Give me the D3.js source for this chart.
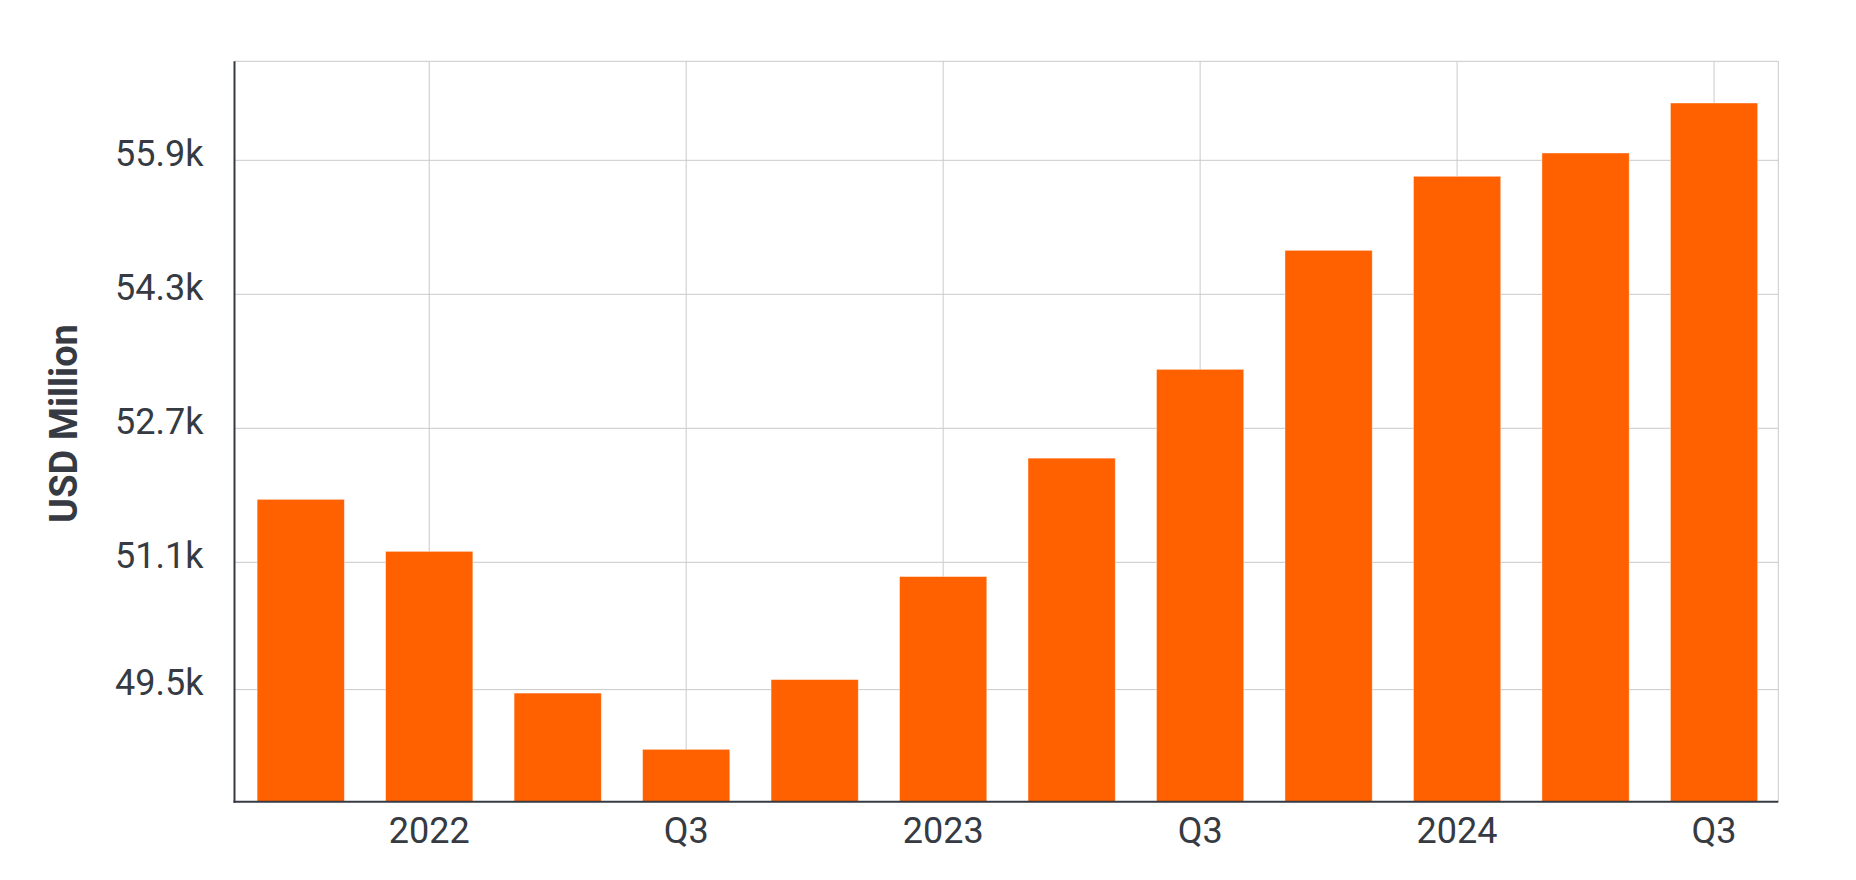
<!DOCTYPE html>
<html><head><meta charset="utf-8">
<script src="https://cdn.jsdelivr.net/npm/d3@7"></script>
<style>
body{margin:0;background:#fff;}
svg{display:block;}
text{font-family:Roboto, "Liberation Sans", sans-serif;}
</style>
</head><body>
<svg id="chart" width="1856" height="880"></svg>
<script>
// ---- data ----
const categories = ["2021 Q4","2022 Q1","2022 Q2","2022 Q3","2022 Q4","2023 Q1","2023 Q2","2023 Q3","2023 Q4","2024 Q1","2024 Q2","2024 Q3"];
const values = [51852, 51231, 49539, 48867, 49700, 50930, 52344, 53404, 54825, 55709, 55987, 56584];
const xTickCategories = ["2022 Q1","2022 Q3","2023 Q1","2023 Q3","2024 Q1","2024 Q3"];
const xTickLabels = ["2022","Q3","2023","Q3","2024","Q3"];
const yTickValues = [49580, 51100, 52700, 54300, 55900];
const yTickLabels = ["49.5k","51.1k","52.7k","54.3k","55.9k"];
const yDomain = [48242, 57082];
const yTitle = "USD Million";

// ---- layout ----
const W = 1856, H = 880;
const m = {left: 234.5, right: 1778.3, top: 61.3, bottom: 801.7};
const textColor = "#363a42";
const barColor = "#ff6000";
const gridColor = "#cacaca";

const svg = d3.select("#chart");
svg.append("rect").attr("width", W).attr("height", H).attr("fill", "#fff");

const x = d3.scaleBand().domain(categories).range([m.left + 2, m.right]).paddingInner(0.321).paddingOuter(0.1605);
const y = d3.scaleLinear().domain(yDomain).range([m.bottom, m.top]);

// horizontal gridlines
svg.append("g").selectAll("line").data(yTickValues).join("line")
  .attr("x1", m.left).attr("x2", m.right)
  .attr("y1", d => y(d)).attr("y2", d => y(d))
  .attr("stroke", gridColor).attr("stroke-width", 1);

// vertical gridlines
svg.append("g").selectAll("line").data(xTickCategories).join("line")
  .attr("x1", d => x(d) + x.bandwidth()/2).attr("x2", d => x(d) + x.bandwidth()/2)
  .attr("y1", m.top).attr("y2", m.bottom)
  .attr("stroke", gridColor).attr("stroke-width", 1);

// frame top / right
svg.append("line").attr("x1", m.left).attr("x2", m.right).attr("y1", m.top).attr("y2", m.top)
  .attr("stroke", gridColor).attr("stroke-width", 1);
svg.append("line").attr("x1", m.right).attr("x2", m.right).attr("y1", m.top).attr("y2", m.bottom)
  .attr("stroke", gridColor).attr("stroke-width", 1);

// bars
svg.append("g").selectAll("rect").data(values).join("rect")
  .attr("x", (d, i) => x(categories[i]))
  .attr("width", x.bandwidth())
  .attr("y", d => y(d))
  .attr("height", d => m.bottom - y(d))
  .attr("fill", barColor)
  .attr("stroke", "#ffffff").attr("stroke-opacity", 0.5).attr("stroke-width", 0.8);

// axes lines
svg.append("line").attr("x1", m.left).attr("x2", m.left).attr("y1", m.top).attr("y2", m.bottom + 1)
  .attr("stroke", textColor).attr("stroke-width", 2);
svg.append("line").attr("x1", m.left - 1).attr("x2", m.right).attr("y1", m.bottom).attr("y2", m.bottom)
  .attr("stroke", textColor).attr("stroke-width", 2);

// y tick labels
svg.append("g").selectAll("text").data(yTickValues).join("text")
  .attr("x", 203.5).attr("y", d => y(d) + 5.5)
  .attr("text-anchor", "end")
  .attr("font-size", 36).attr("fill", textColor)
  .text((d, i) => yTickLabels[i]);

// x tick labels
svg.append("g").selectAll("text").data(xTickCategories).join("text")
  .attr("x", d => x(d) + x.bandwidth()/2).attr("y", 843)
  .attr("text-anchor", "middle")
  .attr("font-size", 36).attr("fill", textColor)
  .text((d, i) => xTickLabels[i]);

// y title
svg.append("text")
  .attr("transform", `translate(77.3, ${(m.top + m.bottom)/2 - 8}) rotate(-90)`)
  .attr("text-anchor", "middle")
  .attr("font-size", 38).attr("font-weight", 700).attr("fill", textColor)
  .text(yTitle);
</script>
</body></html>
